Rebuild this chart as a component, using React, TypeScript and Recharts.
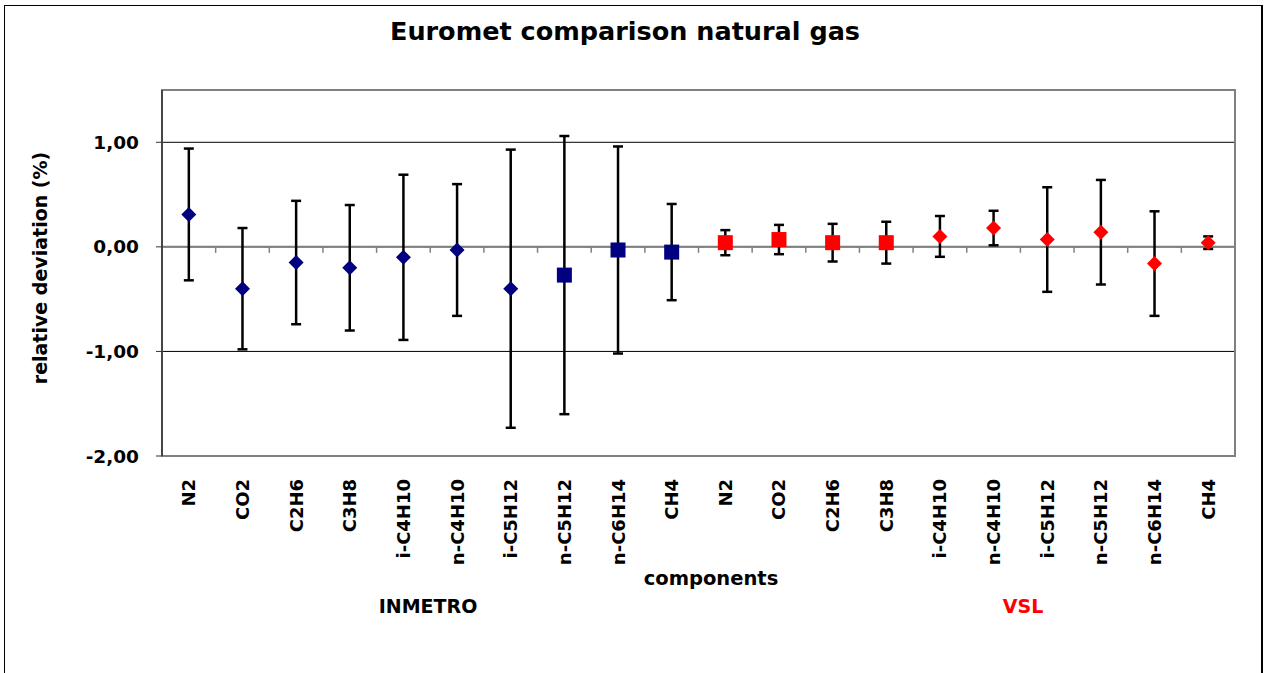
import React from "react";
import {
  CartesianGrid,
  ErrorBar,
  ReferenceArea,
  ReferenceLine,
  Scatter,
  ScatterChart,
  XAxis,
  YAxis,
} from "recharts";

const components = [
  "N2",
  "CO2",
  "C2H6",
  "C3H8",
  "i-C4H10",
  "n-C4H10",
  "i-C5H12",
  "n-C5H12",
  "n-C6H14",
  "CH4",
];

// relative deviation (%) and its expanded uncertainty, per lab
const inmetroDeviation = [0.31, -0.4, -0.15, -0.2, -0.1, -0.03, -0.4, -0.27, -0.03, -0.05];
const inmetroUncertainty = [0.63, 0.58, 0.59, 0.6, 0.79, 0.63, 1.33, 1.33, 0.99, 0.46];
const vslDeviation = [0.04, 0.07, 0.04, 0.04, 0.1, 0.18, 0.07, 0.14, -0.16, 0.04];
const vslUncertainty = [0.12, 0.14, 0.18, 0.2, 0.195, 0.165, 0.5, 0.5, 0.5, 0.06];

const yTicks = [-2, -1, 0, 1];
const yDomain: [number, number] = [-2, 1.5];

// INMETRO switches to square markers from n-C5H12 on, VSL uses squares up to C3H8
const INMETRO_SQUARES_FROM = 7;
const VSL_SQUARES_UNTIL = 4;

const categories = [...components, ...components];

const toPoints = (values: number[], errs: number[], offset: number) =>
  values.map((y, i) => ({ x: i + offset, y, err: errs[i] }));

const inmetro = toPoints(inmetroDeviation, inmetroUncertainty, 0);
const vsl = toPoints(vslDeviation, vslUncertainty, components.length);

const FONT = "Tahoma, 'DejaVu Sans', sans-serif";
const NAVY = "#000080";
const RED = "#ff0000";

const W = 1266;
const H = 673;

function Diamond(props: any) {
  const { cx, cy, fill } = props;
  if (cx == null || cy == null) return null;
  const r = 7.5;
  return (
    <polygon
      points={`${cx},${cy - r} ${cx + r},${cy} ${cx},${cy + r} ${cx - r},${cy}`}
      fill={fill}
    />
  );
}

function Square(props: any) {
  const { cx, cy, fill } = props;
  if (cx == null || cy == null) return null;
  const s = 15;
  return <rect x={cx - s / 2} y={cy - s / 2} width={s} height={s} fill={fill} />;
}

function CategoryTick(props: any) {
  const { x, y, payload } = props;
  return (
    <text
      transform={`translate(${x},${y}) rotate(-90)`}
      textAnchor="end"
      dy="0.36em"
      fontFamily={FONT}
      fontWeight="bold"
      fontSize={18}
      fill="#000"
    >
      {categories[payload.value]}
    </text>
  );
}

// zero line with the category tick marks hanging below it
function ZeroAxis(props: any) {
  const { x1, x2, y1 } = props;
  const n = categories.length;
  const step = (x2 - x1) / n;
  return (
    <g>
      <line x1={x1} x2={x2} y1={y1} y2={y1} stroke="#808080" strokeWidth={2} />
      {Array.from({ length: n + 1 }, (_, i) => (
        <line
          key={i}
          x1={x1 + i * step}
          x2={x1 + i * step}
          y1={y1}
          y2={y1 + 6}
          stroke="#808080"
          strokeWidth={1.5}
        />
      ))}
    </g>
  );
}

const fmt = (v: number) => v.toFixed(2).replace(".", ",");

export default function App() {
  return (
    <div
      style={{
        position: "absolute",
        left: 0,
        top: 0,
        width: W,
        height: H,
        overflow: "hidden",
        background: "#fff",
      }}
    >
      <div
        style={{
          position: "absolute",
          left: 4,
          top: 5,
          width: 1259,
          height: 720,
          boxSizing: "border-box",
          border: "1.5px solid #000",
          borderRightWidth: 2,
        }}
      />
      <ScatterChart
        width={W}
        height={H}
        margin={{ top: 90, right: 31, bottom: 0, left: 0 }}
        style={{ position: "absolute", left: 0, top: 0 }}
      >
        <ReferenceArea
          y1={yDomain[0]}
          y2={yDomain[1]}
          fill="none"
          stroke="#808080"
          strokeWidth={2}
        />
        <CartesianGrid vertical={false} stroke="#000" strokeWidth={1} />
        <ReferenceLine y={0} shape={(p: any) => <ZeroAxis {...p} />} />
        <XAxis
          type="number"
          dataKey="x"
          domain={[-0.5, categories.length - 0.5]}
          ticks={categories.map((_, i) => i)}
          interval={0}
          height={217}
          axisLine={false}
          tickLine={false}
          tickSize={6}
          tickMargin={17}
          tick={<CategoryTick />}
        />
        <YAxis
          type="number"
          dataKey="y"
          domain={yDomain}
          ticks={yTicks}
          width={162}
          axisLine={{ stroke: "#333", strokeWidth: 1.5 }}
          tickLine={{ stroke: "#333" }}
          tickSize={6}
          tickMargin={17}
          tickFormatter={fmt}
          tick={{ fill: "#000", fontFamily: FONT, fontWeight: "bold", fontSize: 18.5 }}
        />
        <Scatter
          data={inmetro.slice(0, INMETRO_SQUARES_FROM)}
          fill={NAVY}
          shape={<Diamond />}
          isAnimationActive={false}
        >
          <ErrorBar dataKey="err" direction="y" width={5} stroke="#000" strokeWidth={2.5} />
        </Scatter>
        <Scatter
          data={inmetro.slice(INMETRO_SQUARES_FROM)}
          fill={NAVY}
          shape={<Square />}
          isAnimationActive={false}
        >
          <ErrorBar dataKey="err" direction="y" width={5} stroke="#000" strokeWidth={2.5} />
        </Scatter>
        <Scatter
          data={vsl.slice(0, VSL_SQUARES_UNTIL)}
          fill={RED}
          shape={<Square />}
          isAnimationActive={false}
        >
          <ErrorBar dataKey="err" direction="y" width={5} stroke="#000" strokeWidth={2.5} />
        </Scatter>
        <Scatter
          data={vsl.slice(VSL_SQUARES_UNTIL)}
          fill={RED}
          shape={<Diamond />}
          isAnimationActive={false}
        >
          <ErrorBar dataKey="err" direction="y" width={5} stroke="#000" strokeWidth={2.5} />
        </Scatter>
      </ScatterChart>
      <svg
        width={W}
        height={H}
        style={{ position: "absolute", left: 0, top: 0, pointerEvents: "none" }}
        fontFamily={FONT}
        fontWeight="bold"
      >
        <text x={625} y={40} textAnchor="middle" fontSize={25.5}>
          Euromet comparison natural gas
        </text>
        <text transform="translate(47,268) rotate(-90)" textAnchor="middle" fontSize={19}>
          relative deviation (%)
        </text>
        <text x={711} y={585} textAnchor="middle" fontSize={19.5}>
          components
        </text>
        <text x={428} y={613} textAnchor="middle" fontSize={19}>
          INMETRO
        </text>
        <text x={1023} y={613} textAnchor="middle" fontSize={19} fill={RED}>
          VSL
        </text>
      </svg>
    </div>
  );
}
